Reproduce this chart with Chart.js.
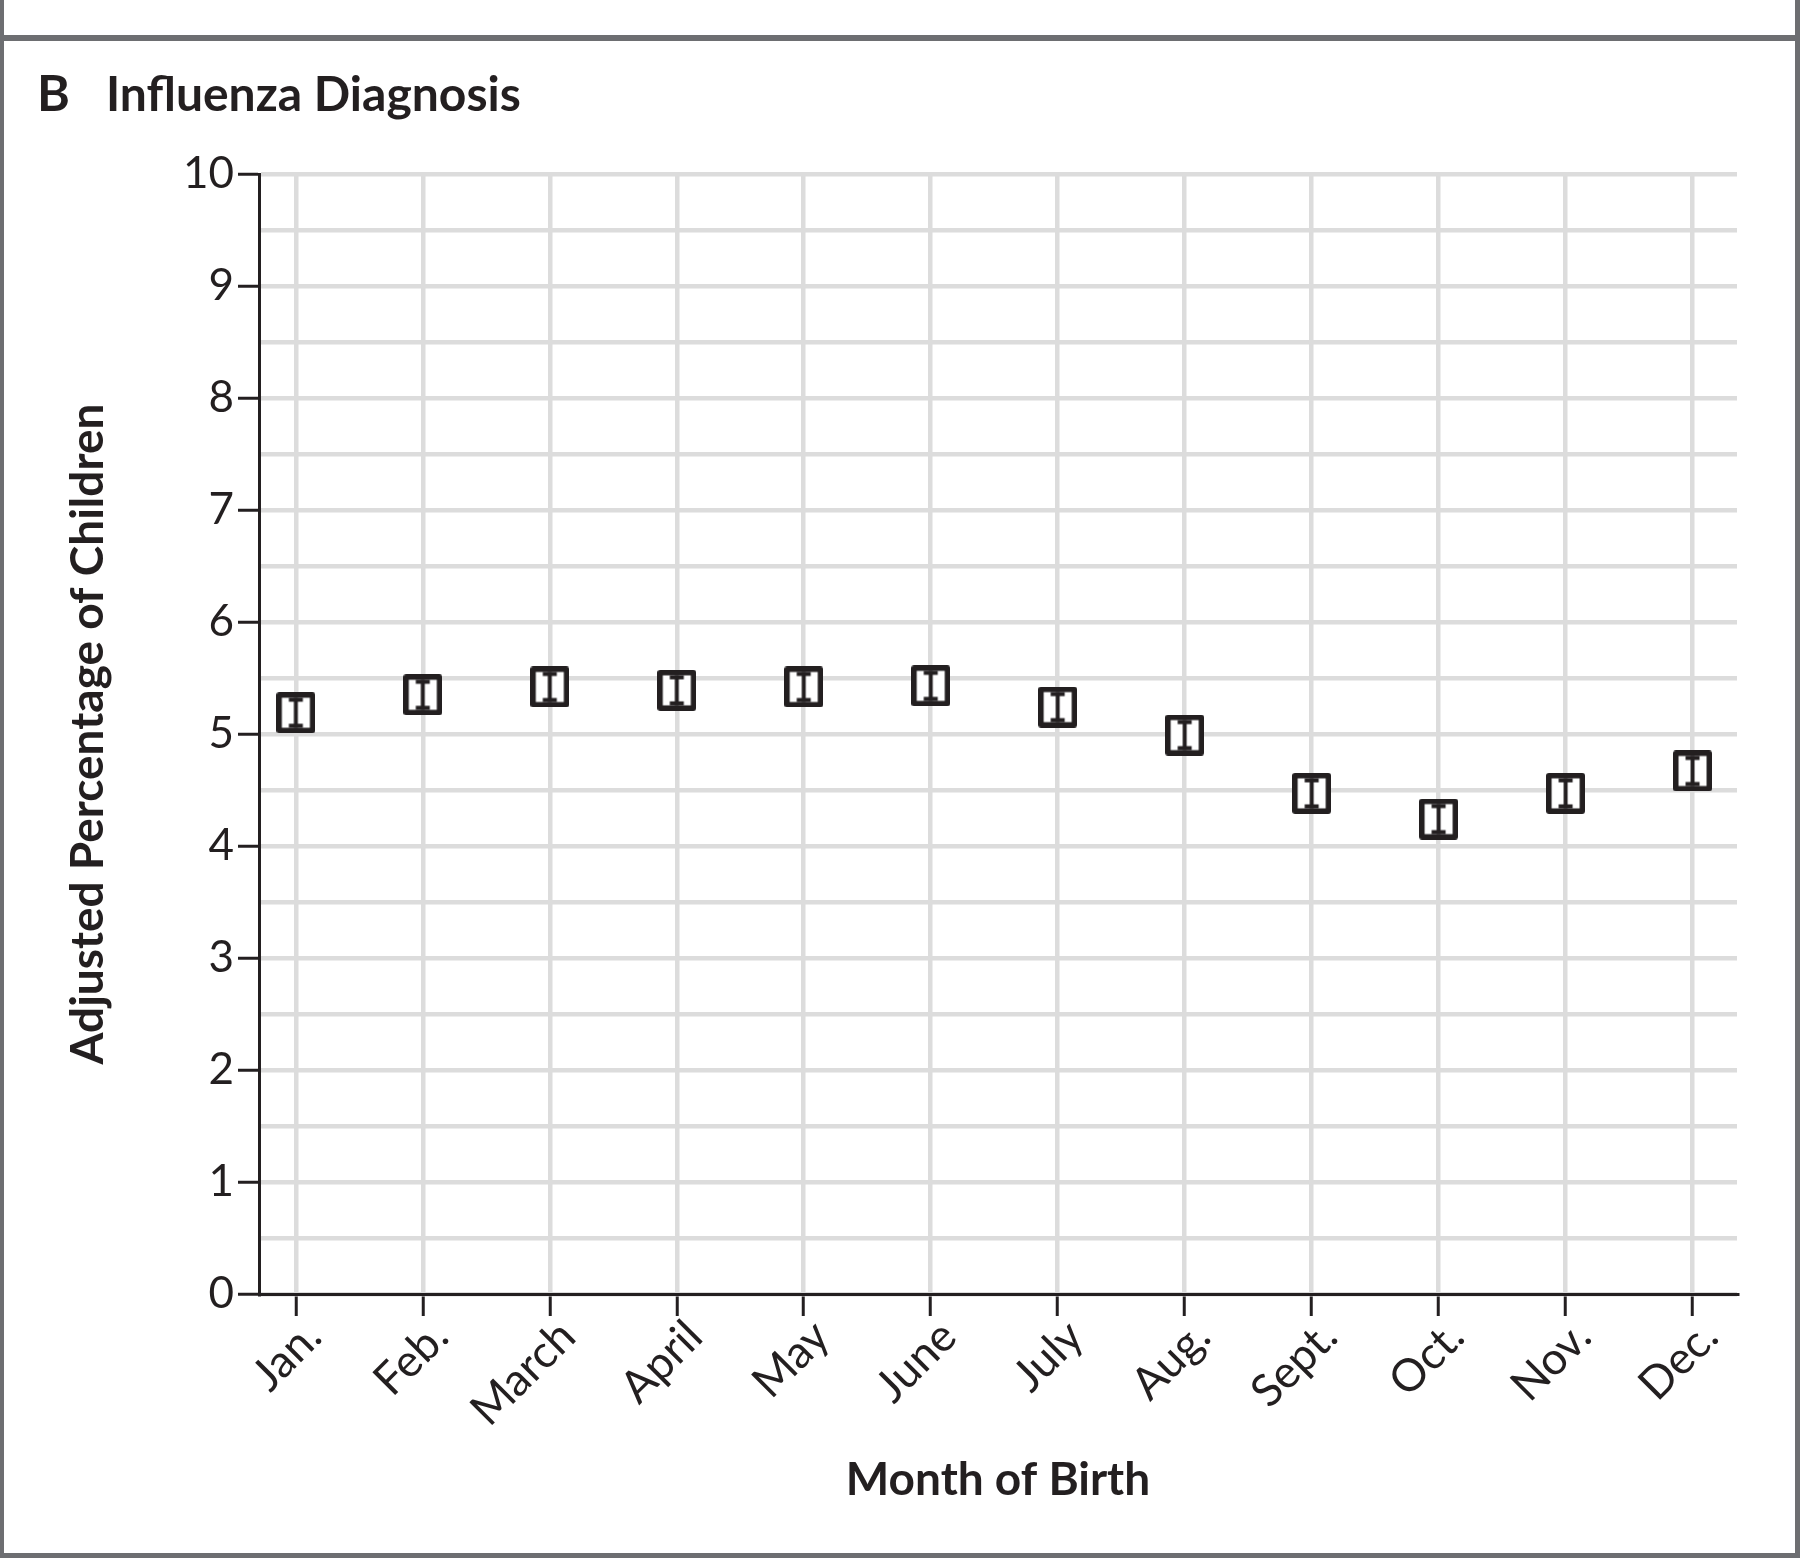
<!DOCTYPE html>
<html>
<head>
<meta charset="utf-8">
<title>Influenza Diagnosis</title>
<script src="https://cdn.jsdelivr.net/npm/chart.js@4.4.1/dist/chart.umd.min.js"></script>
<style>
  html, body { margin: 0; padding: 0; background: #fff; }
  #page { position: relative; width: 1800px; height: 1558px; overflow: hidden; background: #fff;
          font-family: Lato, "Open Sans", sans-serif; color: #231f20; }
  .frame { position: absolute; background: #6d6e71; }
  .head { position: absolute; top: 64px; font-size: 48px; line-height: 1.2; font-weight: bold; white-space: nowrap; }
  #chart { position: absolute; left: 0; top: 0; }
</style>
</head>
<body>
<div id="page">
  <canvas id="chart" width="1800" height="1558"></canvas>
  <div class="frame" style="left:0; top:35px; width:1800px; height:6px;"></div>
  <div class="frame" style="left:0; top:0; width:4px; height:1558px;"></div>
  <div class="frame" style="right:0; top:0; width:5px; height:1558px;"></div>
  <div class="frame" style="left:0; bottom:0; width:1800px; height:5px;"></div>
  <div class="head" style="left:37px; font-size:50px; top:62px;">B</div>
  <div class="head" style="left:106px;">Influenza Diagnosis</div>
</div>
<script>
// ---- data ----
const months = ["Jan.", "Feb.", "March", "April", "May", "June", "July", "Aug.", "Sept.", "Oct.", "Nov.", "Dec."];
const adjustedPct = [5.19, 5.35, 5.42, 5.39, 5.42, 5.43, 5.24, 4.99, 4.47, 4.24, 4.47, 4.67];
const yMin = 0;
const yMax = 10;

const INK = "#231f20";
const GRID = "#dcdcdc";

// marker: open box with the CI bar drawn inside
function makeMarker() {
    const w = 39, h = 41, b = 5.5;
    const c = document.createElement("canvas");
    c.width = w;
    c.height = h;
    const g = c.getContext("2d");
    g.fillStyle = INK;
    g.beginPath();
    g.roundRect(0, 0, w, h, 3);
    g.fill();
    g.fillStyle = "#fff";
    g.fillRect(b, b, w - 2 * b, h - 2 * b);
    g.fillStyle = INK;
    g.fillRect(w / 2 - 2, b, 4, h - 2 * b);
    g.fillRect(w / 2 - 7, b, 14, 4);
    g.fillRect(w / 2 - 7, h - b - 4, 14, 4);
    return c;
}

function renderChart() {
    new Chart(document.getElementById("chart"), {
        type: "scatter",
        data: {
            datasets: [{
                label: "Adjusted percentage",
                data: adjustedPct.map((v, i) => ({ x: i, y: v })),
                pointStyle: makeMarker(),
                pointRadius: 20,
                showLine: false
            }]
        },
        options: {
            responsive: false,
            animation: false,
            layout: { padding: { top: 174, right: 63, left: 0, bottom: 0 } },
            plugins: {
                legend: { display: false },
                tooltip: { enabled: false }
            },
            scales: {
                x: {
                    type: "linear",
                    min: -0.29,
                    max: 11.35,
                    afterBuildTicks: s => { s.ticks = months.map((m, i) => ({ value: i })); },
                    afterFit: s => { s.height = 264; },
                    ticks: {
                        callback: (v, i) => months[i],
                        autoSkip: false,
                        minRotation: 45,
                        maxRotation: 45,
                        padding: -6,
                        labelOffset: 18,
                        color: INK,
                        font: { family: "Lato", size: 45 }
                    },
                    grid: { color: GRID, lineWidth: 4.5, tickLength: 22, tickColor: INK, tickWidth: 3 },
                    border: { color: INK, width: 3 },
                    title: {
                        display: true,
                        text: "Month of Birth",
                        color: INK,
                        font: { family: "Lato", size: 46, weight: "bold" },
                        padding: { top: 0, bottom: 50 }
                    }
                },
                y: {
                    min: yMin,
                    max: yMax,
                    afterFit: s => { s.width = 259; },
                    ticks: {
                        stepSize: 0.5,
                        callback: v => Number.isInteger(v) ? v : "",
                        padding: 4,
                        color: INK,
                        font: { family: "Lato", size: 44 }
                    },
                    grid: {
                        color: GRID,
                        lineWidth: 4.5,
                        tickLength: 21,
                        tickWidth: 3,
                        tickColor: ctx => Number.isInteger(ctx.tick.value) ? INK : "rgba(0,0,0,0)"
                    },
                    border: { color: INK, width: 3 },
                    title: {
                        display: true,
                        text: "Adjusted Percentage of Children",
                        color: INK,
                        font: { family: "Lato", size: 46, weight: "bold" },
                        padding: { top: 61, bottom: 0 }
                    }
                }
            }
        }
    });
}

document.addEventListener("DOMContentLoaded", renderChart);
</script>
</body>
</html>
